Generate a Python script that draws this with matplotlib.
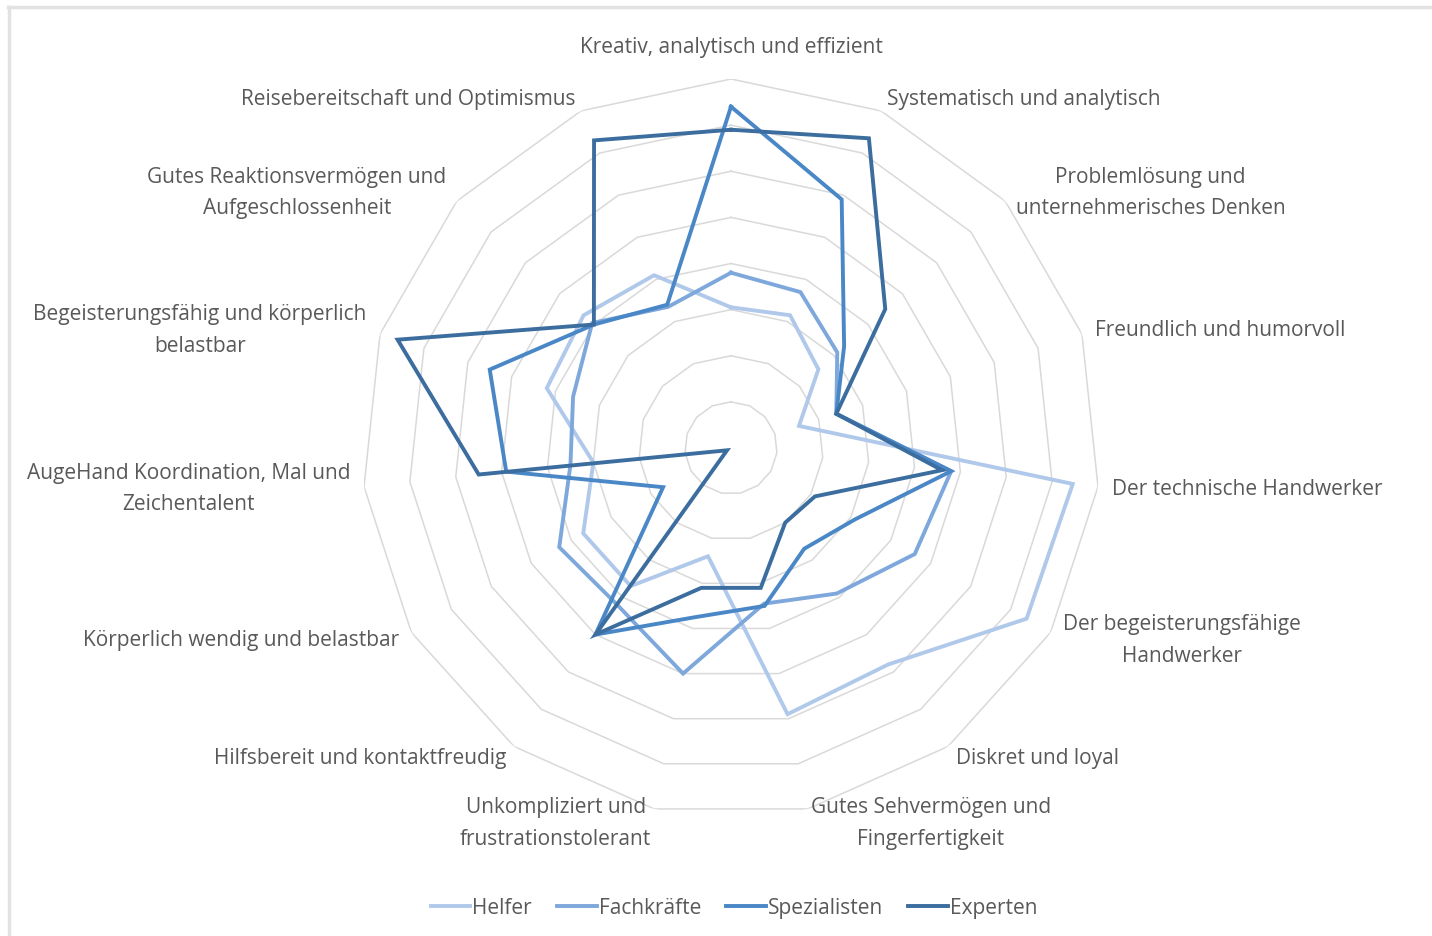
import numpy as np
import matplotlib
matplotlib.use("Agg")
import matplotlib.pyplot as plt
from matplotlib.lines import Line2D

plt.rcParams['font.family'] = ['Open Sans', 'DejaVu Sans']

categories = [
    "Kreativ, analytisch und effizient",
    "Systematisch und analytisch",
    "Problemlösung und\nunternehmerisches Denken",
    "Freundlich und humorvoll",
    "Der technische Handwerker",
    "Der begeisterungsfähige\nHandwerker",
    "Diskret und loyal",
    "Gutes Sehvermögen und\nFingerfertigkeit",
    "Unkompliziert und\nfrustrationstolerant",
    "Hilfsbereit und kontaktfreudig",
    "Körperlich wendig und belastbar",
    "AugeHand Koordination, Mal und\nZeichentalent",
    "Begeisterungsfähig und körperlich\nbelastbar",
    "Gutes Reaktionsvermögen und\nAufgeschlossenheit",
    "Reisebereitschaft und Optimismus",
]

series_names = ["Helfer", "Fachkräfte", "Spezialisten", "Experten"]
helfer = [3.05, 3.15, 2.55, 1.55, 7.45, 7.4, 5.8, 5.9, 2.4, 3.7, 3.7, 3.0, 4.2, 4.3, 4.1]
fachkraefte = [3.8, 3.7, 3.1, 2.4, 4.8, 4.6, 3.9, 3.45, 5.0, 4.2, 4.3, 3.5, 3.6, 4.05, 3.35]
spezialisten = [7.4, 5.9, 3.3, 2.4, 4.8, 3.1, 2.7, 3.5, 3.75, 5.0, 1.7, 4.9, 5.5, 4.0, 3.4]
experten = [6.9, 7.35, 4.5, 2.4, 4.6, 2.1, 2.0, 3.1, 3.1, 5.0, 0.1, 5.5, 7.6, 4.0, 7.3]
ring_levels = [1, 2, 3, 4, 5, 6, 7, 8]

colors = ["#b0c9ea", "#7ea8dc", "#4a87c6", "#3b6d9f"]
text_color = "#595959"
grid_color = "#d9d9d9"
FS = 15.0

W, H = 1432, 937
fig = plt.figure(figsize=(W / 100, H / 100), dpi=100)
cx, cy, R = 731, 449, 369
ax = fig.add_axes([(cx - R) / W, (H - cy - R) / H, 2 * R / W, 2 * R / H], projection='polar')
ax.set_theta_zero_location('N')
ax.set_theta_direction(-1)
ax.set_ylim(0, ring_levels[-1])
ax.axis('off')

n = len(categories)
theta = np.linspace(0, 2 * np.pi, n, endpoint=False)
theta_c = np.append(theta, theta[0])

for lv in ring_levels:
    ax.plot(theta_c, [lv] * (n + 1), color=grid_color, lw=1.1, zorder=1)

for name, vals, col in zip(series_names, [helfer, fachkraefte, spezialisten, experten], colors):
    v = list(vals) + [vals[0]]
    ax.plot(theta_c, v, color=col, lw=2.8, label=name, zorder=3,
            solid_joinstyle='miter')

rmax = ring_levels[-1]
px_unit = R / rmax
for k, (t, lab) in enumerate(zip(theta, categories)):
    s = np.sin(t)
    if k == 0:
        ax.text(t, rmax + 32 / px_unit, lab, ha='center', va='center',
                color=text_color, fontsize=FS, multialignment='center', linespacing=1.65)
        continue
    ha = 'left' if s > 0.05 else ('right' if s < -0.05 else 'center')
    ax.text(t, rmax + 14 / px_unit, lab, ha=ha, va='center', color=text_color,
            fontsize=FS, multialignment='center', linespacing=1.65)

# chart border (top and left visible)
fig.add_artist(Line2D([9 / W, 9 / W], [0, 1 - 8 / H], color="#e2e2e2", lw=2.5,
                      transform=fig.transFigure))
fig.add_artist(Line2D([8 / W, 1], [1 - 8 / H, 1 - 8 / H], color="#e2e2e2", lw=2.5,
                      transform=fig.transFigure))

handles, labels = ax.get_legend_handles_labels()
leg = fig.legend(handles, labels, loc='center', bbox_to_anchor=(734 / W, 1 - 909 / H),
                 ncol=4, frameon=False, fontsize=FS, handlelength=1.9,
                 handletextpad=0.1, columnspacing=1.2)
for t in leg.get_texts():
    t.set_color(text_color)

fig.savefig("out.png", dpi=100, facecolor='white')
